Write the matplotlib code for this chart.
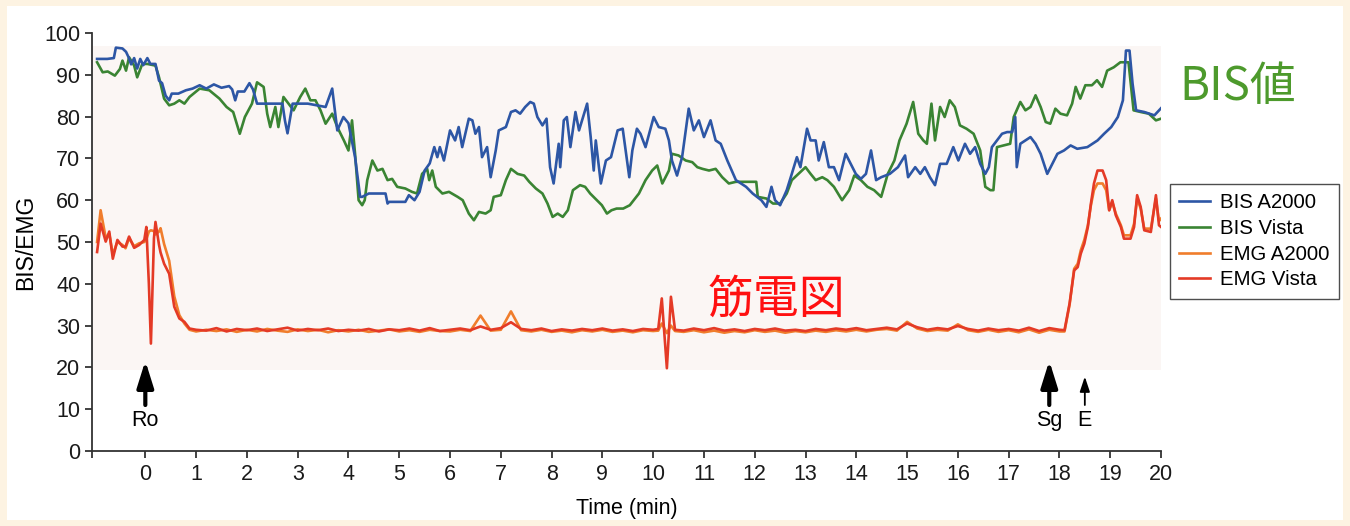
import matplotlib.pyplot as plt
from matplotlib.patches import Rectangle

plt.rcParams['font.family'] = ['Liberation Sans', 'DejaVu Sans']

# -------------------------------------------------------------------
# DATA (time in min, values are BIS index / EMG)
# -------------------------------------------------------------------
bis_a2000_t = [-0.95, -0.75, -0.62, -0.58, -0.45, -0.38, -0.33, -0.28, -0.22, -0.16, -0.1, -0.04,
               0.04, 0.1, 0.2, 0.27, 0.33, 0.4, 0.47, 0.52, 0.65, 0.8, 0.93, 1.07, 1.2, 1.35, 1.5,
               1.65, 1.71, 1.77, 1.82, 1.95, 2.05, 2.12, 2.2, 2.5, 2.7, 2.75, 2.8, 2.85, 2.9, 3.2,
               3.55, 3.68, 3.78, 3.9, 4.0, 4.13, 4.23, 4.27, 4.4, 4.73, 4.77, 4.8, 5.12, 5.19, 5.3,
               5.4, 5.5, 5.6, 5.69, 5.75, 5.8, 5.88, 6.0, 6.1, 6.17, 6.24, 6.37, 6.44, 6.5, 6.57,
               6.63, 6.73, 6.8, 6.9, 6.96, 7.1, 7.2, 7.29, 7.38, 7.48, 7.58, 7.65, 7.72, 7.82, 7.9,
               7.97, 8.04, 8.14, 8.17, 8.24, 8.3, 8.37, 8.47, 8.54, 8.6, 8.7, 8.77, 8.83, 8.87, 8.97,
               9.07, 9.17, 9.3, 9.4, 9.53, 9.59, 9.68, 9.75, 9.85, 10.01, 10.11, 10.24, 10.31, 10.37,
               10.47, 10.57, 10.7, 10.8, 10.9, 11.0, 11.13, 11.23, 11.33, 11.46, 11.63, 11.83, 11.96,
               12.13, 12.23, 12.33, 12.4, 12.5, 12.63, 12.73, 12.83, 12.9, 13.03, 13.1, 13.2, 13.26,
               13.36, 13.46, 13.56, 13.66, 13.79, 13.89, 13.99, 14.09, 14.19, 14.29, 14.39, 14.49,
               14.66, 14.82, 14.96, 15.02, 15.16, 15.26, 15.35, 15.45, 15.55, 15.65, 15.78, 15.91,
               16.01, 16.14, 16.24, 16.34, 16.44, 16.54, 16.61, 16.67, 16.77, 16.87, 16.97, 17.07,
               17.13, 17.16, 17.23, 17.33, 17.43, 17.53, 17.63, 17.76, 17.86, 17.96, 18.09, 18.22,
               18.35, 18.55, 18.75, 18.88, 19.02, 19.15, 19.25, 19.31, 19.38, 19.44, 19.51, 19.67,
               19.87, 20.0]
bis_a2000 = [93.8, 93.8, 94.0, 96.5, 96.3, 95.5, 94.2, 92.5, 94.0, 91.5, 93.8, 92.3,
             94.0, 92.6, 92.6, 88.6, 88.0, 85.0, 83.9, 85.5, 85.5, 86.3, 86.7, 87.5, 86.7, 87.7, 86.9,
             87.3, 86.5, 83.9, 86.0, 86.0, 88.0, 86.5, 83.1, 83.1, 83.1, 79.0, 76.0, 79.5, 83.1, 83.1,
             82.3, 86.7, 76.7, 79.9, 78.4, 70.3, 60.8, 60.8, 61.6, 61.6, 59.2, 59.6, 59.6, 61.2, 60.0,
             62.0, 67.1, 68.8, 72.7, 70.3, 72.7, 69.5, 76.7, 74.3, 77.5, 72.7, 79.5, 79.1, 75.9, 77.5,
             70.3, 72.7, 65.5, 71.9, 76.7, 77.5, 81.1, 81.5, 80.7, 82.3, 83.5, 83.1, 79.9, 77.9, 79.5,
             67.9, 64.0, 73.5, 67.9, 79.1, 79.9, 72.7, 81.1, 76.7, 79.1, 83.1, 75.1, 67.1, 74.3, 64.0,
             69.5, 70.3, 76.7, 77.1, 65.5, 71.9, 77.1, 75.9, 72.7, 79.9, 77.5, 77.1, 74.3, 69.5,
             65.9, 70.3, 81.9, 76.7, 79.1, 75.1, 79.1, 74.3, 73.5, 69.5, 64.8, 63.2, 61.6,
             60.0, 58.4, 63.2, 60.0, 58.8, 62.4, 66.3, 70.3, 67.9, 77.1, 74.3, 74.3, 69.5,
             73.9, 67.9, 67.9, 64.8, 71.1, 68.7, 66.3, 65.1, 66.3, 71.9, 64.8, 65.5,
             66.3, 67.9, 70.7, 65.5, 67.9, 66.3, 67.9, 65.5, 63.6, 68.7, 68.7, 72.7,
             69.5, 73.5, 71.1, 72.7, 68.7, 66.3, 67.9, 72.7, 74.3, 75.9, 76.3, 76.3,
             79.9, 67.9, 73.5, 74.3, 75.1, 73.5, 71.1, 66.3, 68.7, 71.1, 71.9, 73.1,
             72.3, 72.7, 74.3, 75.9, 77.5, 79.9, 83.9, 95.8, 95.8, 87.9, 81.5, 81.1,
             80.3, 82.0]

bis_vista_t = [-0.95, -0.84, -0.74, -0.6, -0.5, -0.45, -0.38, -0.32, -0.22, -0.16, -0.06, 0.04,
               0.2, 0.27, 0.37, 0.47, 0.57, 0.67, 0.77, 0.87, 1.07, 1.26, 1.46, 1.6, 1.73, 1.86,
               1.96, 2.1, 2.2, 2.33, 2.4, 2.46, 2.56, 2.62, 2.72, 2.82, 2.92, 3.05, 3.15, 3.25,
               3.35, 3.45, 3.55, 3.68, 3.78, 3.91, 4.0, 4.07, 4.13, 4.2, 4.27, 4.32, 4.37, 4.47,
               4.57, 4.67, 4.77, 4.86, 4.96, 5.12, 5.25, 5.35, 5.45, 5.55, 5.59, 5.65, 5.72, 5.85,
               5.98, 6.15, 6.25, 6.37, 6.47, 6.57, 6.7, 6.8, 6.86, 7.0, 7.1, 7.2, 7.33, 7.46,
               7.56, 7.69, 7.82, 7.92, 8.02, 8.12, 8.22, 8.32, 8.42, 8.56, 8.66, 8.76, 8.89, 8.99,
               9.09, 9.18, 9.28, 9.41, 9.54, 9.72, 9.85, 9.98, 10.08, 10.18, 10.31, 10.37, 10.5,
               10.64, 10.77, 10.87, 10.97, 11.1, 11.23, 11.36, 11.49, 11.63, 11.83, 12.03, 12.06,
               12.23, 12.36, 12.5, 12.63, 12.73, 12.86, 13.0, 13.1, 13.2, 13.33, 13.43, 13.56,
               13.72, 13.86, 13.96, 14.09, 14.22, 14.35, 14.49, 14.62, 14.75, 14.85, 14.99, 15.12,
               15.22, 15.32, 15.39, 15.48, 15.55, 15.65, 15.74, 15.84, 15.94, 16.04, 16.17, 16.31,
               16.44, 16.54, 16.64, 16.7, 16.77, 16.9, 17.03, 17.1, 17.23, 17.33, 17.43, 17.53,
               17.63, 17.73, 17.82, 17.92, 18.02, 18.15, 18.25, 18.32, 18.41, 18.51, 18.64, 18.74,
               18.84, 18.94, 19.07, 19.2, 19.36, 19.46, 19.6, 19.76, 19.9, 20.0]
bis_vista = [93.0, 90.6, 90.8, 89.8, 91.4, 93.4, 91.0, 94.2, 92.2, 89.4, 92.6, 92.6,
             92.2, 89.4, 84.3, 82.7, 83.1, 83.9, 83.1, 84.7, 86.7, 86.3, 84.3, 82.3, 81.1, 75.9,
             79.9, 83.1, 88.2, 87.1, 80.7, 77.5, 82.3, 77.5, 84.7, 83.1, 81.5, 84.7, 86.7, 83.9,
             83.9, 81.5, 78.3, 80.7, 77.5, 74.3, 71.9, 79.1, 71.1, 60.0, 58.8, 60.0, 64.8, 69.5,
             67.1, 67.5, 64.8, 65.1, 63.2, 62.8, 62.0, 61.6, 66.3, 67.5, 64.8, 67.1, 63.2, 61.6,
             62.0, 60.8, 60.0, 56.8, 55.2, 57.2, 56.8, 57.6, 60.8, 61.2, 64.8, 67.5, 66.3, 65.9,
             64.4, 62.8, 61.6, 59.2, 56.0, 56.8, 56.0, 57.6, 62.4, 63.6, 63.2, 61.6, 60.0, 58.8,
             56.8, 57.6, 58.0, 58.0, 58.8, 61.6, 64.8, 67.1, 68.3, 64.0, 67.1, 71.1, 70.7,
             69.5, 69.1, 67.9, 67.5, 67.1, 67.5, 65.5, 64.0, 64.4, 64.4, 64.4, 60.8,
             60.4, 59.2, 59.2, 61.6, 64.8, 66.3, 67.9, 66.3, 64.8, 65.5, 64.8, 63.2,
             60.0, 62.4, 65.9, 64.8, 63.2, 62.4, 60.8, 66.3, 69.5, 74.3, 78.3, 83.5,
             75.9, 74.3, 73.5, 83.1, 74.3, 82.3, 79.9, 83.9, 82.3, 77.9, 77.1, 75.9,
             71.9, 63.2, 62.4, 62.4, 72.7, 73.1, 73.5, 79.9, 83.5, 81.5, 82.3, 85.1,
             82.3, 78.7, 78.3, 81.9, 80.7, 80.3, 83.1, 87.1, 84.3, 87.5, 87.5, 88.7,
             87.1, 91.0, 91.8, 93.0, 93.0, 81.5, 81.1, 80.7, 79.1, 79.5]

emg_t = [-0.95, -0.88, -0.78, -0.71, -0.64, -0.55, -0.45, -0.39, -0.32, -0.22, -0.12, -0.02,
         0.02, 0.07, 0.11, 0.17, 0.2, 0.27, 0.3, 0.37, 0.47, 0.57, 0.67, 0.77, 0.87,
         1.0, 1.2, 1.4, 1.6, 1.8, 2.0, 2.2, 2.4, 2.6, 2.8, 3.0, 3.2, 3.4, 3.6, 3.8, 4.0,
         4.2, 4.4, 4.6, 4.8, 5.0, 5.2, 5.4, 5.6, 5.8, 6.0, 6.2, 6.4, 6.6, 6.8, 7.0, 7.2,
         7.4, 7.6, 7.8, 8.0, 8.2, 8.4, 8.6, 8.8, 9.0, 9.2, 9.4, 9.6, 9.8, 10.0,
         10.1, 10.17, 10.27, 10.35, 10.43,
         10.6, 10.8, 11.0, 11.2, 11.4, 11.6, 11.8, 12.0, 12.2, 12.4, 12.6, 12.8, 13.0, 13.2,
         13.4, 13.6, 13.8, 14.0, 14.2, 14.4, 14.6, 14.8, 15.0, 15.2, 15.4, 15.6, 15.8, 16.0,
         16.2, 16.4, 16.6, 16.8, 17.0, 17.2, 17.4, 17.6, 17.8, 18.0,
         18.1, 18.2, 18.29, 18.36, 18.42, 18.49, 18.56, 18.62, 18.68, 18.75, 18.85, 18.92,
         18.98, 19.04, 19.11, 19.21, 19.27, 19.4, 19.47, 19.53, 19.6, 19.67, 19.8, 19.9,
         19.96, 20.0]
emg_a2000 = [50.0, 57.6, 51.0, 52.0, 47.0, 50.0, 49.3, 48.5, 50.9, 49.0, 49.7, 50.0,
             50.6, 52.5, 52.8, 52.6, 51.8, 52.5, 53.3, 49.5, 45.5, 37.0, 32.5, 30.5, 29.0,
             28.6, 29.0, 28.7, 29.1, 28.5, 29.0, 28.6, 29.2, 28.8, 28.5, 29.1, 28.7, 29.0, 28.4,
             28.9, 28.6, 29.0, 28.5, 28.8, 29.1, 28.6, 28.9, 28.5, 29.0, 28.7, 28.6, 29.0, 28.7,
             32.4, 28.8, 29.0, 33.4, 28.9, 28.6, 29.0, 28.5, 28.8, 28.4, 28.9, 28.6, 29.0, 28.5,
             28.8, 28.4, 28.9, 28.7,
             28.8, 30.5, 28.2, 30.0, 28.7,
             28.5, 28.9, 28.4, 28.8, 28.3, 28.7, 28.4, 28.9, 28.5, 28.8, 28.3, 28.7, 28.4, 28.8,
             28.5, 28.9, 28.6, 29.0, 28.6, 29.0, 29.2, 28.8, 30.9, 29.3, 28.7, 29.0, 28.8, 30.3,
             28.9, 28.5, 29.0, 28.5, 28.9, 28.4, 29.1, 28.3, 29.0, 28.6,
             28.6, 35.0, 43.6, 44.8, 48.0, 50.5, 54.0, 58.8, 62.4, 64.0, 64.0, 62.4,
             57.6, 59.6, 56.8, 54.0, 51.6, 51.6, 54.4, 60.4, 58.0, 53.2, 53.2, 60.4,
             55.0, 55.6]
emg_vista = [47.6, 54.4, 50.1, 52.5, 46.0, 50.5, 48.9, 48.9, 51.3, 48.6, 49.3, 50.5,
             53.6, 40.0, 25.7, 50.9, 54.8, 49.3, 47.5, 44.8, 42.4, 34.5, 31.7, 30.9, 29.3,
             29.0, 28.8, 29.4, 28.6, 29.2, 28.9, 29.3, 28.7, 29.1, 29.5, 28.8, 29.2, 28.9, 29.3,
             28.7, 29.0, 28.8, 29.2, 28.6, 29.1, 28.9, 29.3, 28.8, 29.4, 28.7, 29.0, 29.3, 28.9,
             29.8, 29.0, 29.4, 30.8, 29.2, 28.9, 29.3, 28.7, 29.1, 28.8, 29.2, 28.9, 29.3, 28.8,
             29.1, 28.7, 29.2, 29.0,
             29.2, 36.5, 19.8, 36.9, 29.0,
             28.8, 29.3, 28.9, 29.4, 28.8, 29.1, 28.7, 29.2, 28.9, 29.3, 28.8, 29.0, 28.7, 29.2,
             28.9, 29.3, 29.0, 29.4, 28.9, 29.2, 29.5, 29.1, 30.5, 29.6, 29.0, 29.4, 29.1, 29.9,
             29.2, 28.8, 29.3, 28.9, 29.2, 28.8, 29.5, 28.7, 29.4, 29.0,
             28.9, 35.3, 43.2, 44.0, 47.2, 49.6, 53.6, 59.2, 64.0, 67.1, 67.1, 64.8,
             57.6, 60.0, 56.4, 53.6, 50.8, 50.8, 53.6, 61.2, 58.4, 52.8, 52.4, 61.2,
             54.0, 53.6]

# event markers: (time, label, bold arrow?)
events = [(0.0, "Ro", True), (17.8, "Sg", True), (18.5, "E", False)]

# -------------------------------------------------------------------
# FIGURE
# -------------------------------------------------------------------
fig = plt.figure(figsize=(13.5, 5.26), dpi=100, facecolor="#fdf3e2")
fig.patches.append(Rectangle((7 / 1350, 6 / 526), 1336 / 1350, 514 / 526,
                             transform=fig.transFigure, facecolor="white",
                             edgecolor="none", zorder=-10))

ax = fig.add_axes([92 / 1350, 1 - 451 / 526, (1161 - 92) / 1350, (451 - 33) / 526])
ax.patch.set_visible(False)
ax.set_xlim(-1.05, 20)
ax.set_ylim(0, 100)

# faint shaded recording window
ax.axhspan(19.4, 97, color="#fbf6f4", zorder=0, lw=0)

lw = 1.9
ax.plot(bis_a2000_t, bis_a2000, color="#2d56a5", lw=lw, label="BIS A2000", zorder=3)
ax.plot(bis_vista_t, bis_vista, color="#3a8433", lw=lw, label="BIS Vista", zorder=2)
ax.plot(emg_t, emg_a2000, color="#f07d2c", lw=lw, label="EMG A2000", zorder=2)
ax.plot(emg_t, emg_vista, color="#e43a26", lw=lw, label="EMG Vista", zorder=3)

for t, name, bold in events:
    if bold:
        style = "-|>,head_length=1.6,head_width=0.5"
        ax.annotate("", xy=(t, 21.6), xytext=(t, 11), zorder=4,
                    arrowprops=dict(arrowstyle=style, lw=3, color="black",
                                    shrinkA=0, shrinkB=0))
    else:
        style = "-|>,head_length=0.9,head_width=0.3"
        ax.annotate("", xy=(t, 17.8), xytext=(t, 11), zorder=4,
                    arrowprops=dict(arrowstyle=style, lw=1.3, color="black",
                                    shrinkA=0, shrinkB=0))
    ax.text(t, 7.4, name, ha="center", va="center", fontsize=15.5)

ax.text(12.42, 36.3, "筋電図", color="#ff1010", fontsize=33,
        family=["Noto Sans CJK JP", "DejaVu Sans"], ha="center", va="center")
fig.text(1238 / 1350, 1 - 87 / 526, "BIS値", color="#4d9a2c", fontsize=33,
         family=["Noto Sans CJK JP", "DejaVu Sans"], ha="center", va="center")

ax.set_xticks([-1.05] + list(range(21)))
ax.set_xticklabels([""] + [str(i) for i in range(21)])
ax.set_yticks(range(0, 101, 10))
ax.tick_params(axis="both", labelsize=15.5, length=5, width=1.3, color="#333333",
               labelcolor="#1a1a1a", direction="out")
ax.tick_params(axis="x", pad=4)
for side in ("top", "right"):
    ax.spines[side].set_visible(False)
for side in ("left", "bottom"):
    ax.spines[side].set_linewidth(1.3)
    ax.spines[side].set_color("#333333")

ax.set_xlabel("Time (min)", fontsize=15.5, labelpad=10)
ax.set_ylabel("BIS/EMG", fontsize=16.5, labelpad=5)

leg = ax.legend(loc="upper left", bbox_to_anchor=(1170 / 1350, 1 - 184 / 526),
                bbox_transform=fig.transFigure, fontsize=14.7, frameon=True,
                fancybox=False, edgecolor="#222222", handlelength=1.5,
                handletextpad=0.5, labelspacing=0.33, borderpad=0.45,
                borderaxespad=0)
leg.get_frame().set_linewidth(1.0)

fig.savefig("out.png", dpi=100, facecolor=fig.get_facecolor())
